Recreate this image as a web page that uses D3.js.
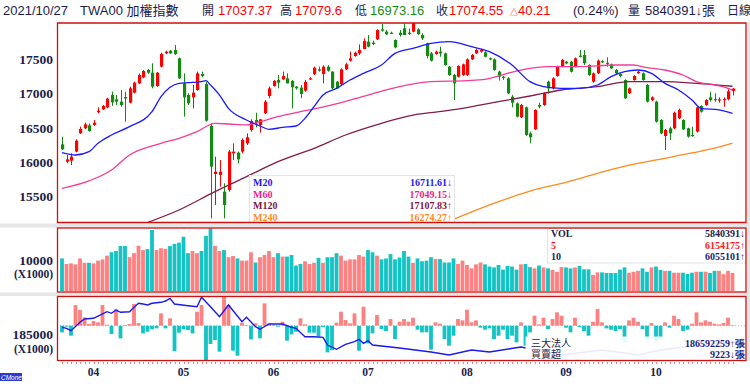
<!DOCTYPE html>
<html><head><meta charset="utf-8">
<script src="https://cdn.jsdelivr.net/npm/d3@7"></script>
<style>body{margin:0;background:#fff;}svg{display:block;}</style>
</head><body>
<svg id="c" width="750" height="391"></svg>
<script>
// ---------------- DATA ----------------
const opens = [16256,16002,16017,16149,16417,16491,16535,16540,16725,16769,16799,16979,16916,16882,16950,16867,17014,17150,17238,17346,
17307,17111,17395,17590,17629,17639,17517,17150,16979,16945,17053,17287,17141,16525,15821,15807,15562,15587,16124,16134,
16149,16271,16466,16613,16540,16711,16965,17111,17199,17209,17224,17185,17102,17087,17043,17209,17287,17356,17287,17395,
17322,17175,17136,17356,17483,17551,17590,17654,17761,17747,17796,17942,17908,17893,17786,17893,17957,17893,17908,17942,
17859,17737,17590,17581,17615,17590,17395,17273,17248,17273,17273,17502,17590,17615,17605,17517,17502,17322,17248,17224,
16955,16857,16652,16799,16417,16476,16833,16833,17175,17077,17258,17395,17468,17468,17395,17556,17566,17419,17175,17297,
17475,17453,17429,17346,17287,17199,17004,17199,17297,17297,17126,16906,16882,16613,16378,16491,16491,16637,16613,16491,
16393,16442,16818,16833,16945,16920,16910,16912,16916,17037.37];
const highs = [16369,16100,16124,16330,16515,16574,16564,16613,16799,16833,16940,17028,16979,17053,17030,17102,17175,17297,17346,17360,
17444,17317,17600,17630,17640,17712,17530,17297,17004,17126,17322,17322,17175,16564,16075,16027,15685,16173,16271,16149,
16344,16417,16623,16720,16630,16906,17102,17199,17273,17322,17297,17199,17110,17126,17199,17240,17395,17395,17414,17419,
17331,17185,17370,17453,17615,17615,17722,17810,17859,17776,17942,18020,17932,17908,17796,17932,18030,17957,18055,17957,
17884,17747,17610,17630,17688,17600,17405,17290,17414,17440,17517,17580,17660,17660,17620,17530,17517,17336,17260,17240,
16979,16870,16850,16810,16442,16770,16867,17020,17190,17240,17410,17510,17480,17480,17530,17639,17639,17430,17310,17500,
17490,17532,17440,17360,17300,17210,17090,17270,17335,17310,17140,16960,16895,16625,16480,16515,16735,16780,16625,16500,
16515,16810,16830,16920,17028,17004,16945,16945,17065,17079.6];
const lows = [16173,15978,15953,16139,16408,16476,16442,16525,16711,16760,16784,16818,16833,16808,16588,16857,17004,17141,17224,17290,
17077,17100,17385,17580,17580,17566,17215,16662,16833,16784,17043,17238,16588,15171,15367,15636,15171,15562,16027,15978,
16124,16247,16442,16505,16427,16701,16931,17102,17077,17199,17150,16784,17060,16931,17028,17199,17273,17322,17150,17322,
17067,17067,17126,17346,17468,17541,17566,17649,17678,17712,17786,17908,17859,17874,17664,17835,17859,17859,17898,17859,
17786,17517,17470,17570,17541,17410,17260,16906,17238,17260,17260,17493,17580,17600,17530,17490,17336,17190,17200,16994,
16799,16650,16640,16380,16271,16466,16784,16820,17000,17060,17248,17385,17430,17310,17385,17530,17419,17260,17160,17287,
17450,17395,17360,17287,17240,16920,16994,17190,17290,17190,16870,16890,16575,16405,16173,16320,16480,16625,16465,16355,
16369,16430,16720,16820,16882,16882,16867,16808,16900,16973.16];
const closes = [16183,16036,16075,16310,16481,16549,16452,16574,16750,16818,16926,16872,16882,16833,16930,17077,17160,17273,17331,17307,
17102,17307,17581,17615,17590,17581,17224,16945,16857,17014,17297,17258,16603,15929,15855,15855,15367,16149,16149,16036,
16320,16359,16598,16564,16623,16882,17077,17185,17160,17258,17150,17092,17077,16994,17170,17224,17380,17336,17395,17336,
17077,17077,17356,17429,17517,17600,17639,17771,17688,17727,17932,17923,17869,17884,17678,17859,17859,17874,18040,17874,
17810,17551,17483,17615,17590,17419,17273,17150,17405,17429,17502,17566,17639,17639,17541,17502,17346,17248,17230,17004,
16867,16662,16833,16393,16359,16760,16808,17004,17077,17224,17395,17493,17444,17322,17517,17541,17444,17273,17297,17483,
17468,17444,17370,17297,17258,16931,17077,17258,17322,17199,16882,16945,16588,16417,16466,16417,16720,16760,16476,16369,
16385,16799,16735,16906,16906,16916,16916,16920,17034,17074.55];
// volume, unit: 1000 張
const volumesK = [10500,8700,8900,8600,10500,9100,9100,8900,9800,10200,11400,12500,12900,14500,14500,10900,12200,14600,13200,13500,
19700,13200,13800,13600,14500,15200,15600,17500,12200,12900,12200,12900,17800,20200,14600,12900,13200,10900,11300,10500,
9800,9800,12500,9200,10900,11600,12900,10900,12200,11100,11100,11600,8200,8700,9600,8700,9100,10700,9100,10900,
10900,12200,11400,9800,10200,10200,11600,11100,13200,12500,11400,10200,10500,11900,10200,10800,12900,11100,9100,10500,
9600,9800,10900,10300,10300,9200,9200,10500,8700,9800,8400,7300,8600,9200,8600,7900,7600,8400,6900,8100,
7900,6900,8600,8700,7700,7300,8200,7600,7300,6800,6200,7700,7600,7300,7600,8100,7000,7000,5200,6000,
6000,5800,5800,5800,6900,7600,5900,6200,6500,7300,6200,7600,7900,6800,6500,6500,5900,5900,5900,5500,
5900,6200,6200,6200,5800,6500,6500,5400,6500,5840.391];
// 三大法人 daily net buy (張)
const netBuy = [-100000,-15000,-150000,310000,235000,125000,25000,70000,50000,310000,15000,-125000,245000,-190000,10000,25000,325000,40000,-115000,-90000,
-55000,-40000,185000,-40000,110000,-380000,-105000,-55000,-65000,-115000,210000,310000,-515000,-275000,-215000,-390000,435000,310000,-375000,-450000,
45000,10000,-205000,35000,-190000,335000,30000,10000,-15000,60000,-225000,-130000,-90000,110000,20000,-105000,-105000,-165000,-20000,-400000,
-365000,45000,210000,85000,35000,185000,-375000,285000,-265000,-115000,160000,-50000,-80000,100000,-200000,60000,100000,60000,120000,-60000,
-100000,-100000,-360000,50000,30000,-200000,-300000,-150000,100000,80000,240000,50000,80000,-30000,-60000,-40000,-200000,-150000,-60000,-200000,
-150000,-250000,50000,-300000,-100000,150000,20000,120000,-50000,100000,200000,150000,-30000,-100000,120000,-20000,-80000,-150000,60000,250000,
50000,-40000,-60000,-80000,-50000,-250000,80000,120000,60000,-50000,-200000,40000,-250000,-200000,50000,-30000,150000,100000,-80000,-60000,
30000,200000,50000,80000,60000,30000,20000,40000,120000,9223];
// 三大法人 cumulative (張)
const cumIdx = [0,1,2,4,5,7,8,10,11,12,13,15,16,17,18,19,20,22,23,24,25,28,30,31,33,35,37,40,41,43,44,46,49,51,52,54,56,58,59,61,63,65,66,67,68,69,75,82,86,91,95,102,111,120,128,133,142,146,149];
const cumVal = [189730000,189530000,189050000,190730000,191390000,191530000,191990000,192850000,192530000,193190000,192730000,192850000,193730000,194530000,194390000,194190000,194530000,194730000,194990000,195530000,
194390000,194050000,193850000,195730000,193850000,191850000,194190000,190850000,191730000,189850000,189330000,190390000,190390000,189730000,189530000,187850000,187850000,187730000,186190000,185330000,
186330000,186850000,187330000,186530000,187050000,186190000,185590000,184790000,184190000,185190000,184790000,185790000,184190000,185190000,184190000,185190000,186190000,186590000,186592259];
// moving averages (sampled points: index, value)
const ma20Idx = [0,3,6,8,11,15,20,22,26,28,31,32,33,35,37,41,44,46,49,52,54,56,58,61,64,67,71,74,78,82,86,91,95,100,104,107,111,115,119,122,125,128,131,134,137,140,142,146,149];
const ma20Val = [16134,16100,16149,16271,16393,16515,16735,16955,17150,17160,17175,17190,17126,16979,16784,16613,16525,16476,16505,16525,16637,16808,16979,17077,17199,17297,17419,17590,17663,17737,17761,17688,17615,17419,17175,17102,17077,17077,17126,17248,17322,17346,17297,17150,17053,16906,16784,16760,16711.61];
const ma60Idx = [0,6,11,15,22,26,30,34,37,41,44,48,52,60,68,75,82,90,94,99,104,108,115,123,127,130,134,138,141,145,148,149];
const ma60Val = [15610,15720,15880,16100,16271,16344,16442,16564,16554,16540,16588,16662,16720,16833,16979,17102,17175,17190,17209,17297,17370,17395,17395,17419,17419,17380,17346,17273,17175,17126,17077,17049.15];
const ma120Idx = [19,26,34,41,48,56,63,71,78,82,89,97,104,111,119,126,134,141,149];
const ma120Val = [15110,15293,15562,15782,16002,16198,16393,16564,16686,16720,16784,16882,16965,17053,17102,17175,17175,17150,17107.83];
const ma240Idx = [87,97,104,112,119,126,133,140,145,149];
const ma240Val = [15157,15416,15570,15700,15830,15950,16040,16130,16200,16274.27];
const priceTicks = [15500,16000,16500,17000,17500];
const volTicks = [10000];
const monthIdx = [7,27,47,68,90,112,132];
const monthLabels = ['04','05','06','07','08','09','10'];
const maNames = ['M20','M60','M120','M240'];
const maLast = ['16711.61↓','17049.15↓','17107.83↑','16274.27↑'];
const volNames = ['VOL','5','10'];
const volLast = ['5840391↓','6154175↑','6055101↑'];

// ---------------- DRAW ----------------
const svg = d3.select('#c');
const RED='#ff0000', GREEN='#138a13', SAL='#ff8080', TEAL='#14c4c4', BORDER='#cc1111', NAVY='#1c1c4a';
const SERIF='"Liberation Serif","Times New Roman",serif';
const SANS='"Liberation Sans",Arial,"Noto Sans CJK TC",sans-serif';
const L=57, R=746;
const mainT=23, mainB=222.5, volT=228, volB=292, netT=296.5, netB=360.5;

svg.append('rect').attr('width',750).attr('height',391).attr('fill','#fff');
svg.append('rect').attr('x',0).attr('y',223.5).attr('width',750).attr('height',4).attr('fill','#e6e6e6');
svg.append('rect').attr('x',0).attr('y',292.5).attr('width',750).attr('height',3.5).attr('fill','#e6e6e6');
svg.append('rect').attr('x',747).attr('y',mainT).attr('width',3).attr('height',netB-mainT).attr('fill','#e6e6e6');

const n = closes.length;
const x = d3.scaleBand().domain(d3.range(n)).range([59.75, 734.75]);
const cx = i => x(i) + x.bandwidth()/2;
const yP = d3.scaleLinear().domain([15500,17500]).range([195.9,59.5]);
const yV = d3.scaleLinear().domain([0,10000]).range([volB-1,260]);
const yN = d3.scaleLinear().domain([0,450000]).range([325.7,295.7]);
const yC = d3.scaleLinear().domain([186592259,195730000]).range([343,297.3]);

const defs = svg.append('defs');
defs.append('clipPath').attr('id','cm').append('rect').attr('x',L).attr('y',mainT).attr('width',R-L).attr('height',mainB-mainT);
defs.append('clipPath').attr('id','cn').append('rect').attr('x',L).attr('y',netT).attr('width',R-L).attr('height',netB-netT);

// ---- main panel
const gm = svg.append('g').attr('clip-path','url(#cm)');
const idx = d3.range(n);
const up = i => closes[i] >= opens[i];
gm.selectAll('line.w').data(idx).join('line')
  .attr('x1',i=>Math.round(cx(i))+0.5).attr('x2',i=>Math.round(cx(i))+0.5)
  .attr('y1',i=>yP(highs[i])).attr('y2',i=>yP(lows[i]))
  .attr('stroke',i=>up(i)?RED:GREEN).attr('stroke-width',1);
gm.selectAll('rect.b').data(idx).join('rect')
  .attr('x',i=>Math.round(cx(i))-1).attr('width',3.2)
  .attr('y',i=>yP(Math.max(opens[i],closes[i])))
  .attr('height',i=>Math.max(1.2,Math.abs(yP(opens[i])-yP(closes[i]))))
  .attr('fill',i=>up(i)?RED:GREEN);

const maLine = d3.line().x(d=>cx(d[0])).y(d=>yP(d[1])).curve(d3.curveMonotoneX);
const maSets = [[ma240Idx,ma240Val,'#ff8a1c'],[ma120Idx,ma120Val,'#851b4b'],[ma60Idx,ma60Val,'#f43c96'],[ma20Idx,ma20Val,'#1a1aff']];
maSets.forEach(([ii,vv,c])=>{
  gm.append('path').attr('d',maLine(ii.map((k,j)=>[k,vv[j]]))).attr('fill','none').attr('stroke',c).attr('stroke-width',1.3);
});
const maColors = ['#1a1aff','#f01e8c','#7a1840','#ff8a1c'];
svg.append('rect').attr('x',249.5).attr('y',175.5).attr('width',205).attr('height',mainB-175.5).attr('fill','#fff').attr('stroke','#e4e4e4');
maNames.forEach((t,j)=>{
  svg.append('text').attr('x',253).attr('y',186+j*11.6).text(t).attr('fill',maColors[j])
    .attr('font-family',SERIF).attr('font-weight','bold').attr('font-size',10);
  svg.append('text').attr('x',452).attr('y',186+j*11.6).text(maLast[j]).attr('fill',maColors[j]).attr('text-anchor','end')
    .attr('font-family',SERIF).attr('font-weight','bold').attr('font-size',10);
});
svg.append('path').attr('d',`M${L+0.5},${mainT} V${mainB} H${R} V${mainT} Z`).attr('fill','none').attr('stroke',BORDER).attr('stroke-width',1.3);
const ay = svg.append('g').attr('transform',`translate(${L-3},0)`)
  .call(d3.axisLeft(yP).tickValues(priceTicks).tickSize(0).tickPadding(1).tickFormat(d3.format('d')));
ay.select('.domain').remove();
ay.selectAll('text').attr('font-family',SERIF).attr('font-weight','bold').attr('font-size',13.5).attr('fill',NAVY);

// ---- volume panel
svg.append('rect').attr('x',L+0.5).attr('y',volT).attr('width',R-L-0.5).attr('height',volB-volT).attr('fill','#fff');
svg.append('g').selectAll('rect').data(idx).join('rect')
  .attr('x',i=>cx(i)-1.9).attr('width',3.8)
  .attr('y',i=>yV(volumesK[i])).attr('height',i=>yV(0)-yV(volumesK[i]))
  .attr('fill',i=>up(i)?SAL:TEAL);
svg.append('rect').attr('x',547.5).attr('y',volT+0.5).attr('width',198).attr('height',34.5).attr('fill','#fff').attr('stroke','#e4e4e4');
const volColors=[NAVY,'#ff1a1a','#1c1c7a'];
svg.append('rect').attr('x',L+0.5).attr('y',volT).attr('width',R-L-0.5).attr('height',volB-volT).attr('fill','none').attr('stroke',BORDER).attr('stroke-width',1.3);
volNames.forEach((t,j)=>{
  svg.append('text').attr('x',551).attr('y',237+j*11.6).text(t).attr('fill',volColors[j])
    .attr('font-family',SERIF).attr('font-weight','bold').attr('font-size',10);
  svg.append('text').attr('x',745).attr('y',237+j*11.6).text(volLast[j]).attr('fill',volColors[j]).attr('text-anchor','end')
    .attr('font-family',SERIF).attr('font-weight','bold').attr('font-size',10);
});
const av = svg.append('g').attr('transform',`translate(${L-3},0)`)
  .call(d3.axisLeft(yV).tickValues(volTicks).tickSize(0).tickPadding(1).tickFormat(d3.format('d')));
av.select('.domain').remove();
av.selectAll('text').attr('font-family',SERIF).attr('font-weight','bold').attr('font-size',13.5).attr('fill',NAVY);
svg.append('text').attr('x',L-4).attr('y',277.5).attr('text-anchor','end').text('(X1000)')
  .attr('font-family',SERIF).attr('font-weight','bold').attr('font-size',11.5).attr('fill',NAVY);

// ---- net buy panel
svg.append('rect').attr('x',L+0.5).attr('y',netT).attr('width',R-L-0.5).attr('height',netB-netT).attr('fill','#fff');
const gn = svg.append('g').attr('clip-path','url(#cn)');
gn.append('line').attr('x1',L).attr('x2',R).attr('y1',yN(0)).attr('y2',yN(0)).attr('stroke','#f4a0a0').attr('stroke-dasharray','1,2');
gn.selectAll('rect').data(idx).join('rect')
  .attr('x',i=>cx(i)-1.9).attr('width',3.8)
  .attr('y',i=>Math.min(yN(netBuy[i]),yN(0))).attr('height',i=>Math.abs(yN(netBuy[i])-yN(0)))
  .attr('fill',i=>netBuy[i]>=0?SAL:TEAL);
svg.append('rect').attr('x',525.5).attr('y',336.5).attr('width',220).attr('height',netB-336.5).attr('fill','#fff').attr('fill-opacity',0.9);
gn.append('path').attr('d',d3.line().x(d=>cx(d[0])).y(d=>yC(d[1]))(cumIdx.map((k,j)=>[k,cumVal[j]])))
  .attr('fill','none').attr('stroke','#1a1af0').attr('stroke-width',1.4);
[['三大法人','186592259↑張'],['買賣超','9223↓張']].forEach((p,j)=>{
  svg.append('text').attr('x',531).attr('y',347+j*10.5).text(p[0]).attr('fill',NAVY).attr('font-family',SANS).attr('font-size',10);
  svg.append('text').attr('x',745).attr('y',347+j*10.5).text(p[1]).attr('fill','#1c1c7a').attr('text-anchor','end')
    .attr('font-family',SERIF).attr('font-weight','bold').attr('font-size',10);
});
svg.append('rect').attr('x',L+0.5).attr('y',netT).attr('width',R-L-0.5).attr('height',netB-netT).attr('fill','none').attr('stroke',BORDER).attr('stroke-width',1.3);
svg.append('text').attr('x',L-4).attr('y',339).attr('text-anchor','end').text('185000')
  .attr('font-family',SERIF).attr('font-weight','bold').attr('font-size',13.5).attr('fill',NAVY);
svg.append('text').attr('x',L-4).attr('y',352.5).attr('text-anchor','end').text('(X1000)')
  .attr('font-family',SERIF).attr('font-weight','bold').attr('font-size',11.5).attr('fill',NAVY);

// ---- x axis
svg.append('g').selectAll('rect').data(idx).join('rect')
  .attr('x',i=>Math.round(cx(i))).attr('y',362).attr('width',1).attr('height',2).attr('fill','#f08080');
const ax = svg.append('g').attr('transform','translate(0,366)')
  .call(d3.axisBottom(x).tickValues(monthIdx).tickSize(0).tickPadding(2).tickFormat((d,k)=>monthLabels[k]));
ax.select('.domain').remove();
ax.selectAll('text').attr('font-family',SERIF).attr('font-weight','bold').attr('font-size',11.5).attr('fill',NAVY);

svg.append('rect').attr('x',0).attr('y',373).attr('width',22).attr('height',8).attr('fill','#2b3bd0');
svg.append('text').attr('x',1).attr('y',380).text('CMoney').attr('fill','#fff').attr('font-family',SANS).attr('font-style','italic').attr('font-size',6.5);

// ---- header
const hdr = [
  ['2021/10/27',3,NAVY,13],['TWA00 加權指數',80,NAVY,13],['開',202,NAVY,12],['17037.37',218,RED,13],['高',280,NAVY,12],['17079.6',295,RED,13],
  ['低',355,NAVY,12],['16973.16',370,'#139013',13],['收',436,NAVY,12],['17074.55',449,RED,13],['(0.24%)',573,NAVY,13],['量',628,NAVY,12],['5840391↓張',645,NAVY,13],['日線',727,NAVY,12]
];
hdr.forEach(h=>svg.append('text').attr('x',h[1]).attr('y',15).text(h[0]).attr('fill',h[2]).attr('font-family',SANS).attr('font-size',h[3]));
svg.append('text').attr('x',510).attr('y',15).attr('fill',RED).attr('font-family',SANS).attr('font-size',13)
  .call(t=>{t.append('tspan').text('△').attr('font-size',8); t.append('tspan').text('40.21');});
</script>
</body></html>
